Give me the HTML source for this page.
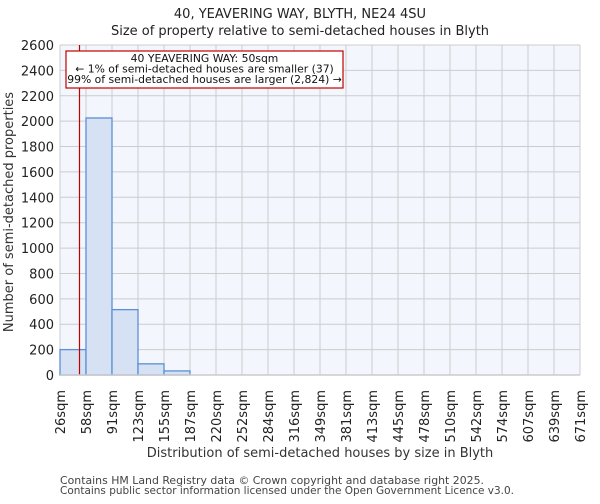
<!DOCTYPE html>
<html><head><meta charset="utf-8"><style>
body{margin:0;background:#fff;font-family:"DejaVu Sans","Liberation Sans",sans-serif;}
</style></head><body>
<svg id="c" width="600" height="500" xmlns="http://www.w3.org/2000/svg" font-family="DejaVu Sans, Liberation Sans, sans-serif">
<text x="300" y="18" text-anchor="middle" font-size="13" fill="#222">40, YEAVERING WAY, BLYTH, NE24 4SU</text>
<text x="300" y="35" text-anchor="middle" font-size="13" fill="#222">Size of property relative to semi-detached houses in Blyth</text>
<rect x="60" y="45" width="520" height="330" fill="#f3f6fd"/>
<g id="grid"></g><g id="bars"></g><g id="axes"></g>
<text transform="translate(13,212) rotate(-90)" text-anchor="middle" font-size="13" fill="#333">Number of semi-detached properties</text>
<text x="320" y="457" text-anchor="middle" font-size="13" fill="#333">Distribution of semi-detached houses by size in Blyth</text>
<text x="60" y="484" font-size="10.5" textLength="424" lengthAdjust="spacingAndGlyphs" fill="#444">Contains HM Land Registry data © Crown copyright and database right 2025.</text>
<text x="60" y="494" font-size="10.5" textLength="454" lengthAdjust="spacingAndGlyphs" fill="#444">Contains public sector information licensed under the Open Government Licence v3.0.</text>
</svg>
<script>
const binEdges=[26,58,91,123,155,187,220,252,284,316,349,381,413,445,478,510,542,574,607,639,671];
const counts=[200,2025,515,88,32,0,0,0,0,0,0,0,0,0,0,0,0,0,0,0];
const yTicks=[0,200,400,600,800,1000,1200,1400,1600,1800,2000,2200,2400,2600];
const propertySize=50;
const NS="http://www.w3.org/2000/svg";
const L=60,R=580,T=45,B=375,yMax=2600;
const xi=i=>L+(R-L)*i/counts.length;
const xv=v=>{let i=0;while(i<binEdges.length-2&&v>binEdges[i+1])i++;return xi(i)+(v-binEdges[i])/(binEdges[i+1]-binEdges[i])*(xi(i+1)-xi(i));};
const y=v=>B-(B-T)*v/yMax;
function mk(p,tag,a){const e=document.createElementNS(NS,tag);for(const k in a)e.setAttribute(k,a[k]);p.appendChild(e);return e;}
const g=document.getElementById('grid'),bg=document.getElementById('bars'),ax=document.getElementById('axes');
yTicks.forEach(t=>{
 const l=mk(g,'line',{x1:L,x2:R,y1:y(t),y2:y(t),stroke:'#ccc','stroke-width':1});
 
 
 const tx=mk(ax,'text',{x:L-6,y:y(t)+5,'text-anchor':'end','font-size':13,fill:'#222'});
 tx.textContent=t;
 
 
});
binEdges.forEach((e,i)=>{
 const l=mk(g,'line',{x1:xi(i),x2:xi(i),y1:T,y2:B,stroke:'#ccc','stroke-width':1});
 
 
 const tx=mk(ax,'text',{transform:`translate(${xi(i)+5},390) rotate(-90)`,'text-anchor':'end','font-size':13,fill:'#222'});
 tx.textContent=e+'sqm';
 
 
});
counts.forEach((c,i)=>{
 if(c<=0)return;
 const r=mk(bg,'rect',{x:xi(i),y:y(c),width:xi(i+1)-xi(i),height:B-y(c),fill:'#d6e1f3',stroke:'#5b8fd6','stroke-width':1.3});
 
 
});
const ln=mk(ax,'line',{x1:xv(propertySize),x2:xv(propertySize),y1:T,y2:B,stroke:'#c00000','stroke-width':1.2});


const bx=mk(ax,'rect',{x:66,y:51,width:277,height:37,fill:'#fff',stroke:'#c00000','stroke-width':1.2});


['40 YEAVERING WAY: 50sqm','← 1% of semi-detached houses are smaller (37)','99% of semi-detached houses are larger (2,824) →'].forEach((s,i)=>{
 const t=mk(ax,'text',{x:204.5,y:62+i*10.5,'text-anchor':'middle','font-size':10.8,fill:'#111'});
 t.textContent=s;
 
 
});
const base=mk(ax,'line',{x1:L,x2:R,y1:B,y2:B,stroke:'#ccc','stroke-width':1.5});


</script>
</body></html>
